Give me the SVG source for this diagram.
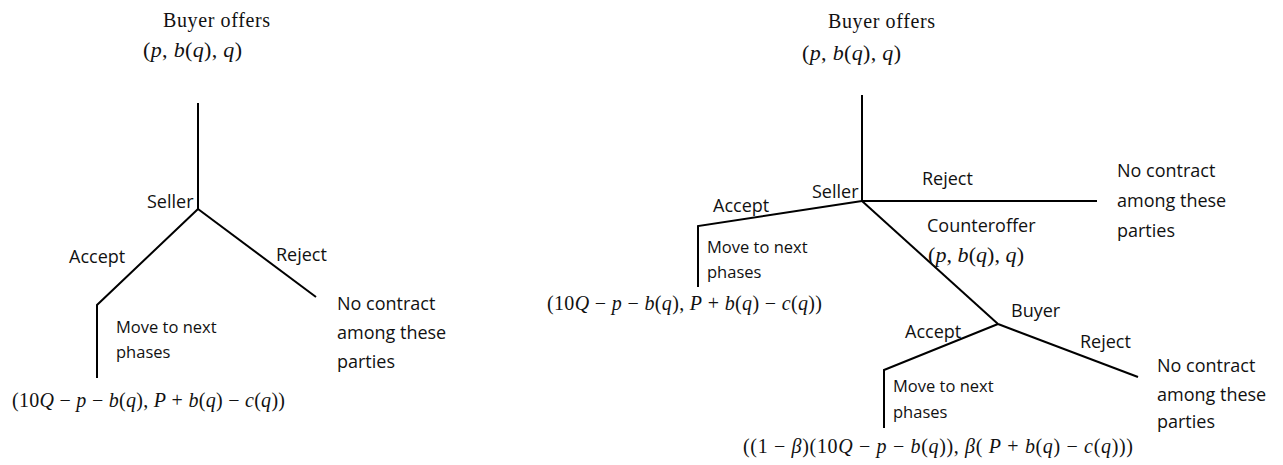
<svg xmlns="http://www.w3.org/2000/svg" width="1283" height="465" viewBox="0 0 1283 465">
<style>
.ser{font-family:"Liberation Serif","Times New Roman",serif;font-size:20px;fill:#111}
.math{font-family:"Liberation Serif","DejaVu Serif",serif;font-size:20px;fill:#111}
.math .i{font-style:italic}
.m3{font-size:22px}
.lbl{font-family:"Open Sans","Liberation Sans",sans-serif;font-size:18px;fill:#111}
.sm{font-family:"Open Sans","Liberation Sans",sans-serif;font-size:16.5px;fill:#111}
.edge{fill:none;stroke:#000;stroke-width:2;stroke-linejoin:miter}
</style>
<rect width="1283" height="465" fill="#fff"/>
<g id="connectors">
  <path class="edge" d="M198,103 L198,209"/>
  <path class="edge" d="M198,209 L97,305 L97,378"/>
  <path class="edge" d="M198,209 L316,297"/>
  <path class="edge" d="M862,95 L862,201"/>
  <path class="edge" d="M862,201 L698,226 L698,287"/>
  <path class="edge" d="M862,201 L1097,201"/>
  <path class="edge" d="M862,201 L998,324"/>
  <path class="edge" d="M998,324 L884,370 L884,428"/>
  <path class="edge" d="M998,324 L1138,377"/>
</g>
<g id="left-root">
  <text class="ser" x="163" y="27" textLength="107" lengthAdjust="spacing">Buyer offers</text>
  <text class="math m3" x="143" y="57" textLength="99" lengthAdjust="spacing">(<tspan class="i">p</tspan>, <tspan class="i">b</tspan>(<tspan class="i">q</tspan>), <tspan class="i">q</tspan>)</text>
</g>
<g id="left-seller">
  <text class="lbl" x="147" y="208">Seller</text>
  <text class="lbl" x="69" y="263">Accept</text>
  <text class="lbl" x="276" y="261">Reject</text>
</g>
<g id="left-accept">
  <text class="sm" x="116" y="333">Move to next</text>
  <text class="sm" x="116" y="358">phases</text>
  <text class="math" x="12" y="407" textLength="273" lengthAdjust="spacing">(10<tspan class="i">Q</tspan> − <tspan class="i">p</tspan> − <tspan class="i">b</tspan>(<tspan class="i">q</tspan>), <tspan class="i">P</tspan> + <tspan class="i">b</tspan>(<tspan class="i">q</tspan>) − <tspan class="i">c</tspan>(<tspan class="i">q</tspan>))</text>
</g>
<g id="left-reject">
  <text class="lbl" x="337" y="310">No contract</text>
  <text class="lbl" x="337" y="339">among these</text>
  <text class="lbl" x="337" y="368">parties</text>
</g>
<g id="right-root">
  <text class="ser" x="828" y="28" textLength="107" lengthAdjust="spacing">Buyer offers</text>
  <text class="math m3" x="802" y="60" textLength="99" lengthAdjust="spacing">(<tspan class="i">p</tspan>, <tspan class="i">b</tspan>(<tspan class="i">q</tspan>), <tspan class="i">q</tspan>)</text>
</g>
<g id="right-seller">
  <text class="lbl" x="812" y="198">Seller</text>
  <text class="lbl" x="713" y="212">Accept</text>
  <text class="lbl" x="922" y="185">Reject</text>
  <text class="lbl" x="927" y="232">Counteroffer</text>
  <text class="math m3" x="928" y="262" textLength="96" lengthAdjust="spacing">(<tspan class="i">p</tspan>, <tspan class="i">b</tspan>(<tspan class="i">q</tspan>), <tspan class="i">q</tspan>)</text>
</g>
<g id="right-accept">
  <text class="sm" x="707" y="253">Move to next</text>
  <text class="sm" x="707" y="278">phases</text>
  <text class="math" x="547" y="310" textLength="275" lengthAdjust="spacing">(10<tspan class="i">Q</tspan> − <tspan class="i">p</tspan> − <tspan class="i">b</tspan>(<tspan class="i">q</tspan>), <tspan class="i">P</tspan> + <tspan class="i">b</tspan>(<tspan class="i">q</tspan>) − <tspan class="i">c</tspan>(<tspan class="i">q</tspan>))</text>
</g>
<g id="right-reject">
  <text class="lbl" x="1117" y="177">No contract</text>
  <text class="lbl" x="1117" y="207">among these</text>
  <text class="lbl" x="1117" y="237">parties</text>
</g>
<g id="right-buyer">
  <text class="lbl" x="1011" y="317">Buyer</text>
  <text class="lbl" x="905" y="338">Accept</text>
  <text class="lbl" x="1080" y="348">Reject</text>
</g>
<g id="right-buyer-accept">
  <text class="sm" x="893" y="392">Move to next</text>
  <text class="sm" x="893" y="418">phases</text>
  <text class="math" x="743" y="453" textLength="390" lengthAdjust="spacing">((1 − <tspan class="i">β</tspan>)(10<tspan class="i">Q</tspan> − <tspan class="i">p</tspan> − <tspan class="i">b</tspan>(<tspan class="i">q</tspan>)), <tspan class="i">β</tspan>( <tspan class="i">P</tspan> + <tspan class="i">b</tspan>(<tspan class="i">q</tspan>) − <tspan class="i">c</tspan>(<tspan class="i">q</tspan>)))</text>
</g>
<g id="right-buyer-reject">
  <text class="lbl" x="1157" y="372">No contract</text>
  <text class="lbl" x="1157" y="401">among these</text>
  <text class="lbl" x="1157" y="428">parties</text>
</g>
</svg>
